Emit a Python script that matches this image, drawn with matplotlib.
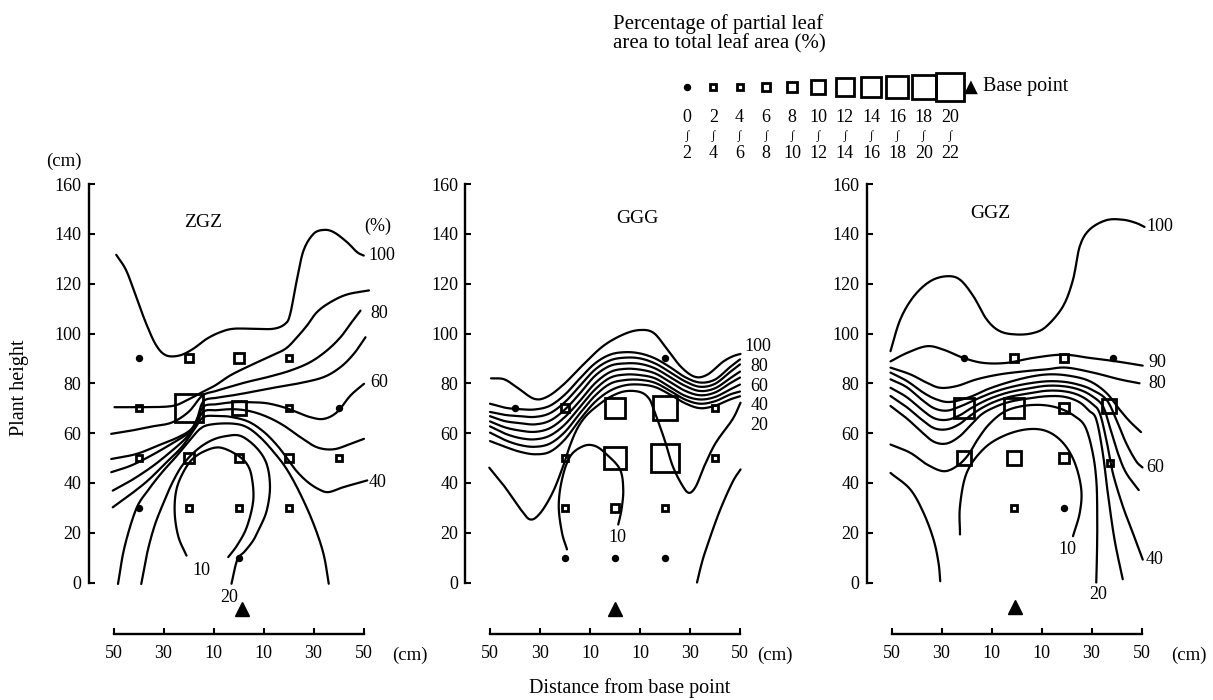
import numpy as np
import matplotlib
matplotlib.use("Agg")
import matplotlib.pyplot as plt
from matplotlib.transforms import blended_transform_factory

plt.rcParams['font.family'] = ['Liberation Serif', 'DejaVu Serif', 'DejaVu Sans']

# ------------------------------------------------------------------ data
CLASS_LOW = [0, 2, 4, 6, 8, 10, 12, 14, 16, 18, 20]
CLASS_HIGH = [2, 4, 6, 8, 10, 12, 14, 16, 18, 20, 22]

X_TICKS = [-50, -30, -10, 10, 30, 50]
X_TICK_LABELS = ['50', '30', '10', '10', '30', '50']
Y_TICKS = [0, 20, 40, 60, 80, 100, 120, 140, 160]

PANEL_TITLES = ['ZGZ', 'GGG', 'GGZ']
BASE_X = [1.5, 0.0, -0.5]
BASE_Y = [-10.5, -10.5, -10.0]

# ---- ZGZ sample points (x, y, leaf-area class)
ZGZ_PT_X = [-40, -20, 0, 20, -40, -20, 0, 20, 40, -40, -20, 0, 20, 40, -40, -20, 0, 20, 0]
ZGZ_PT_Y = [90, 90, 90, 90, 70, 70, 70, 70, 70, 50, 50, 50, 50, 50, 30, 30, 30, 30, 10]
ZGZ_PT_CLASS = [0, 6, 8, 2, 2, 20, 10, 4, 0, 4, 8, 6, 6, 4, 0, 2, 2, 4, 0]

ZGZ_100 = [(-48.9, 131.6), (-44.9, 125.3), (-40.9, 114.6), (-36.9, 103.9), (-32.9, 95.2), (-28.9, 91.2),
           (-23.5, 91.2), (-18.2, 93.8), (-12.8, 97.8), (-7.4, 100.5), (-2.1, 101.9), (5.9, 101.9),
           (14.0, 101.9), (18.7, 103.9), (20.7, 107.9), (23.3, 121.3), (26.0, 133.3), (30.0, 140.0),
           (34.1, 141.6), (38.1, 140.7), (43.4, 136.7), (47.4, 132.7), (50.1, 131.3)]
ZGZ_90 = [(-49.6, 70.4), (-39.5, 70.4), (-27, 70.8), (-21, 73), (-15, 76.2), (-9.4, 79.1), (-3.4, 83.1),
          (3.3, 86.5), (11.3, 90.2), (18.7, 93.8), (23.4, 98.5), (27.4, 103.2), (31.4, 108.6),
          (36.8, 112.6), (43.5, 115.7), (52.2, 117.3)]
ZGZ_80 = [(-50.9, 59.7), (-42.9, 61.0), (-34.9, 62.6), (-26.8, 64.2), (-20, 68.5), (-14.5, 75.0),
          (-9.4, 76.8), (-3.4, 78.6), (3.3, 80.5), (11.3, 82.4), (20.7, 85.1), (28.7, 88.5),
          (35.4, 93.2), (40.8, 98.5), (44.8, 103.9), (48.8, 109.2)]
ZGZ_70 = [(-50.9, 49.6), (-40.9, 51.6), (-32.2, 55.0), (-24.2, 58.3), (-19, 61.5), (-16.5, 66),
          (-14, 72.8), (-8.7, 74.2), (-2.1, 75.2), (4.6, 76.4), (14.0, 78.2), (24.7, 80.1),
          (34.1, 82.5), (40.8, 86.5), (46.1, 91.8), (50.8, 98.5)]
ZGZ_60 = [(-50.9, 44.3), (-42.9, 47.0), (-34.9, 51.0), (-26.8, 55.7), (-20.1, 60.0), (-17, 64),
          (-14, 70.6), (-8.7, 71.6), (-2.1, 72.4), (4.6, 72.4), (11.3, 72.0), (18.0, 70.4),
          (23.4, 68.4), (28.7, 66.4), (34.1, 65.7), (39.4, 68.4), (44.8, 75.1), (50.2, 79.8)]
ZGZ_50 = [(-50.3, 36.9), (-42.9, 41.0), (-34.9, 46.3), (-28.2, 51.6), (-21.5, 57.5), (-17.5, 62.5),
          (-14, 68.6), (-8.7, 69.2), (-2.1, 69.6), (4.6, 68.8), (11.3, 66.6), (18.0, 63.1),
          (24.7, 58.4), (31.4, 54.3), (38.1, 53.5), (44.8, 55.7), (50.2, 57.7)]
ZGZ_40 = [(-50.3, 30.2), (-42.9, 35.6), (-36.2, 41.0), (-29.5, 47.6), (-22.8, 54.3), (-18, 61),
          (-14, 66.4), (-8, 66.8), (-3, 66.5), (4, 64.6), (10, 60.6), (15, 55.6), (19, 50.5),
          (23, 45), (27.5, 40.5), (32, 37.5), (36, 36.3), (42, 38.3), (51.5, 41)]
ZGZ_30 = [(-48.2, -0.6), (-45.6, 14.2), (-40.9, 29.6), (-36.2, 37.0), (-30.8, 44.0), (-25, 50.5),
          (-20, 56.5), (-15, 62.0), (-10, 63.6), (-2.1, 63.8), (3.3, 62.4), (8.6, 58.4), (14, 52.5),
          (19.3, 45.5), (24.7, 35.6), (30, 23.6), (34, 11.5), (36.1, -0.5)]
ZGZ_20 = [(-38.9, -0.6), (-36.5, 12), (-33.5, 23), (-30, 32), (-26.5, 40), (-22.5, 47), (-17, 53),
          (-11, 57), (-5, 58.8), (1, 58.8), (7.3, 54), (11.3, 47.5), (12.6, 38.3), (11.3, 28.9),
          (8.5, 22), (5.9, 16.9), (2.5, 12.5), (-0.5, 9.1), (-2.8, -0.5)]
ZGZ_10 = [(-20.8, 10.8), (-24, 18.2), (-25.5, 27.5), (-25, 36.5), (-22.5, 43.5), (-18.5, 49.5),
          (-13, 53), (-7.4, 54.2), (-1, 51.5), (3.3, 47.7), (5.3, 42.3), (5.9, 32.9), (3.3, 22.2),
          (-0.5, 15), (-4.1, 10.2)]

ZGZ_LABELS = ['100', '80', '60', '40', '10', '20', '(%)']
ZGZ_LABEL_X = [52.0, 52.8, 52.8, 52.1, -14.8, -3.8, 55.7]
ZGZ_LABEL_Y = [131.5, 108.0, 80.5, 40.3, 4.8, -5.9, 143.0]

# ---- GGG
GGG_PT_X = [20, -40, -20, 0, 20, 40, -20, 0, 20, 40, -20, 0, 20, -20, 0, 20]
GGG_PT_Y = [90, 70, 70, 70, 70, 70, 50, 50, 50, 50, 30, 30, 30, 10, 10, 10]
GGG_PT_CLASS = [0, 0, 6, 14, 18, 4, 2, 16, 20, 2, 4, 6, 4, 0, 0, 0]

GGG_100 = [(-49.6, 82.0), (-44.3, 81.6), (-39.0, 78.2), (-32.4, 73.8), (-27.1, 74.6), (-20.5, 79.6),
           (-12.6, 87.6), (-4.7, 95.0), (3.3, 99.6), (9.9, 101.4), (15.5, 100.2), (21, 93.5),
           (26.5, 86.5), (32, 82.6), (37, 83.5), (43, 88.5), (47, 90.8), (50.2, 91.8)]
GGG_BUNDLE_X = [-50, -44, -38, -32, -26, -20, -14, -8, -2, 4, 10, 16, 22, 28, 34, 40, 46, 50]
GGG_90_Y = [71.8, 70.2, 69.6, 69.5, 71.0, 75.5, 82.0, 88.0, 91.5, 92.5, 92.0, 90.0, 86.5, 82.5, 80.3, 81.5, 86.5, 89.6]
GGG_80_Y = [68.5, 67.3, 66.8, 66.5, 68.0, 72.5, 79.0, 85.5, 89.2, 90.3, 90.0, 88.0, 84.5, 80.8, 78.6, 79.8, 84.5, 87.6]
GGG_70_Y = [66.8, 64.8, 64.0, 63.5, 65.0, 69.5, 76.0, 83.0, 87.0, 88.0, 87.8, 86.0, 82.5, 79.0, 76.9, 78.0, 82.0, 84.7]
GGG_60_Y = [64.7, 62.3, 61.0, 60.5, 62.0, 66.5, 73.0, 80.0, 84.5, 85.8, 85.5, 84.0, 80.5, 77.0, 75.2, 76.3, 80.0, 82.3]
GGG_50_Y = [62.7, 59.8, 58.0, 57.5, 59.0, 63.5, 70.5, 77.5, 82.2, 83.5, 83.3, 82.0, 78.5, 75.0, 73.5, 74.5, 77.5, 79.5]
GGG_40_Y = [60.2, 57.2, 55.2, 54.5, 55.8, 60.5, 68.0, 75.0, 79.8, 81.3, 81.4, 80.2, 77.0, 73.5, 71.8, 72.8, 75.5, 76.7]
GGG_30_Y = [56.8, 54.5, 52.5, 51.5, 52.5, 57.5, 65.5, 72.5, 77.0, 79.2, 79.5, 78.5, 75.5, 72.0, 70.0, 71.0, 73.5, 74.8]
GGG_20 = [(-50.3, 46.1), (-44.3, 38.7), (-37.7, 29.3), (-33.8, 25.3), (-29.8, 28.0), (-25, 36.0),
          (-21, 46), (-18, 55), (-15, 62), (-11.5, 67), (-7, 71), (-2, 74.5), (4, 76.8), (10, 76.5),
          (13.5, 74.0), (15.5, 69.5), (19.8, 57.4), (23.1, 46.7), (27.1, 38.7), (29.7, 36.0),
          (32.4, 38.7), (35.7, 46.7), (40.3, 56.1), (47.0, 65.5), (50.2, 72.2)]
GGG_10 = [(-19.2, 13.3), (-21.2, 20.0), (-22.5, 30.7), (-21.2, 41.4), (-17.9, 50.7), (-12.6, 54.8),
          (-7.9, 54.8), (-3.3, 51.4), (2.0, 45.4), (3.3, 37.4), (2.6, 29.3), (1.3, 23.3)]
GGG_BR = [(32.8, 0.0), (34.5, 7.0), (36.4, 13.3), (41.6, 28.0), (46.9, 40.1), (50.2, 45.4)]

GGG_LABELS = ['100', '80', '60', '40', '20', '10']
GGG_LABEL_X = [51.6, 54.2, 54.2, 54.2, 54.2, 0.9]
GGG_LABEL_Y = [94.8, 86.7, 78.7, 70.9, 62.9, 17.9]

# ---- GGZ
GGZ_PT_X = [-21, -1, 19, 38.5, -21, -1, 19, 37, -21, -1, 19, 37.5, -1, 19]
GGZ_PT_Y = [90, 90, 90, 90, 70, 70, 70, 71, 50, 50, 50, 48, 30, 30]
GGZ_PT_CLASS = [0, 6, 6, 0, 14, 14, 8, 10, 10, 10, 8, 2, 2, 0]

GGZ_100 = [(-50.4, 92.9), (-46.5, 105.6), (-41.1, 114.9), (-34.5, 121.0), (-27.9, 123.0), (-22.6, 121.6),
           (-17.2, 114.9), (-11.9, 105.6), (-6.6, 100.9), (0.0, 99.6), (6.7, 100.2), (12.0, 102.9),
           (18.6, 110.9), (22.6, 121.6), (25.3, 135.0), (29.2, 141.7), (35.9, 145.5), (42.5, 145.7),
           (47.8, 144.4), (51.2, 142.8)]
GGZ_90 = [(-50.4, 88.8), (-43.8, 92.2), (-35.8, 94.9), (-29.2, 93.5), (-21.2, 90.2), (-13.3, 88.2),
          (-4.0, 88.2), (6.7, 90.2), (18.6, 91.5), (29.2, 90.2), (39.9, 88.8), (50.5, 87.1)]
GGZ_80 = [(-50.4, 86.3), (-42.5, 83.6), (-35.8, 80.2), (-30.5, 78.2), (-23.9, 78.9), (-15.9, 81.6),
          (-6.6, 83.6), (4.0, 84.9), (12.0, 85.6), (19.9, 86.3), (30.6, 84.3), (41.2, 81.6), (49.2, 80.0)]
GGZ_70 = [(-50.4, 84.3), (-43.8, 80.9), (-37.2, 76.2), (-31.9, 73.5), (-26.5, 72.5), (-18.6, 74.5),
          (-11.9, 77.5), (-4, 80.2), (5.3, 82.6), (13.3, 83.6), (21.3, 83.0), (29.2, 80.9), (35.9, 76.2),
          (41.2, 69.5), (45.2, 64.8), (49.8, 60.4)]
GGZ_60 = [(-50.4, 81.6), (-44, 78.5), (-38, 73.5), (-33, 70), (-28, 69), (-23, 70.5), (-18.5, 72.5),
          (-14, 74.5), (-9, 76.5), (-3, 78.3), (4, 79.8), (12, 80.8), (19, 80.6), (25, 79.4), (30, 77.5),
          (35.9, 73.5), (39.9, 65.5), (43.8, 56.1), (47.8, 48.8), (50.4, 46.2)]
GGZ_50 = [(-50.4, 78.2), (-44, 74.5), (-38, 69.5), (-33, 66), (-28, 65.3), (-23, 67), (-18.5, 69.8),
          (-14, 72.3), (-9, 74.5), (-3, 76.4), (4, 77.8), (12, 79.0), (19, 78.8), (25, 77.5), (30, 75),
          (34.5, 70.9), (37.2, 62.8), (40.5, 52.1), (43.8, 44.1), (48.9, 37.1)]
GGZ_40 = [(-50.4, 74.9), (-44, 70.5), (-38, 65.5), (-33, 62), (-28, 61.5), (-23, 63.5), (-18.5, 67),
          (-14, 70), (-9, 72.5), (-3, 74.5), (4, 75.8), (12, 77.0), (19, 76.8), (25, 75.2), (30, 72),
          (33.2, 68.2), (35.9, 57.5), (38.5, 44.1), (42.5, 30.7), (46.5, 20.0), (50.5, 9.2)]
GGZ_30 = [(-50.4, 70.9), (-44, 66), (-38, 60.5), (-33, 56.5), (-28, 55.8), (-23, 58.5), (-18.5, 63),
          (-14, 67.5), (-9, 70.3), (-3, 72.5), (4, 73.8), (12, 74.8), (19, 74.6), (25, 72.5), (29, 69),
          (31.9, 65.5), (34.5, 52.1), (36.5, 36.1), (39.2, 17.3), (42.5, 1.3)]
GGZ_20 = [(-50.4, 55.4), (-42.5, 52.1), (-35.8, 47.4), (-29.2, 44.7), (-23.9, 46.7), (-19.5, 51),
          (-15.5, 57.5), (-11, 63.5), (-5, 68.5), (2, 70.8), (10, 71.3), (17, 70), (23, 67), (27.5, 62.5),
          (30.5, 52), (32, 40), (32.3, 25), (32.2, 12), (31.9, 0)]
GGZ_10 = [(-22.6, 19.3), (-22.6, 30.7), (-19.9, 44.1), (-13.3, 53.5), (-5.3, 58.8), (4.0, 61.5),
          (12.0, 60.8), (18.6, 56.1), (23.3, 48.1), (25.9, 37.4), (25.3, 28.0), (22.6, 18.6)]
GGZ_BL = [(-50.4, 44.0), (-42.5, 37.4), (-37.2, 28.0), (-33.2, 17.3), (-31.2, 7.9), (-30.5, 0.5)]

GGZ_LABELS = ['100', '90', '80', '60', '40', '20', '10']
GGZ_LABEL_X = [51.8, 52.9, 52.9, 51.8, 51.8, 32.6, 20.2]
GGZ_LABEL_Y = [142.8, 88.2, 80.1, 46.1, 9.2, -4.8, 13.3]

# ------------------------------------------------------------------ style
W, H = 1213, 700
SIZE_PX = {0: 6.0, 2: 8.0, 4: 9.5, 6: 11.5, 8: 13.5, 10: 17.5, 12: 21, 14: 23, 16: 25, 18: 27.5, 20: 31}
MARK_LW = 2.0
LINE_LW = 1.6
FS = 13
WORD_FS = 14.5
PANEL_LEFT_PX = [88.5, 465.0, 866.5]


def smooth(pts, n=10):
    p = np.asarray(pts, float)
    if len(p) < 3:
        return p
    ext = np.vstack([2 * p[0] - p[1], p, 2 * p[-1] - p[-2]])
    out = []
    t = np.linspace(0, 1, n, endpoint=False)[:, None]
    for i in range(1, len(ext) - 2):
        p0, p1, p2, p3 = ext[i - 1], ext[i], ext[i + 1], ext[i + 2]
        seg = 0.5 * ((2 * p1) + (-p0 + p2) * t + (2 * p0 - 5 * p1 + 4 * p2 - p3) * t ** 2
                     + (-p0 + 3 * p1 - 3 * p2 + p3) * t ** 3)
        out.append(seg)
    out.append(p[-1][None, :])
    return np.vstack(out)


def draw_curve(ax, pts):
    s = smooth(pts)
    ax.plot(s[:, 0], s[:, 1], color='black', lw=LINE_LW, solid_capstyle='round', clip_on=False)


def draw_marker(ax, x, y, c):
    if c == 0:
        ax.plot(x, y, 'o', ms=SIZE_PX[0] * 0.72, color='black', clip_on=False, zorder=5)
    else:
        side = SIZE_PX[c] * 0.72 - MARK_LW
        ax.plot(x, y, 's', ms=side, mfc='none', mec='black', mew=MARK_LW, clip_on=False, zorder=5)


fig = plt.figure(figsize=(W / 100, H / 100), dpi=100)

axes = []
for k, lpx in enumerate(PANEL_LEFT_PX):
    ax = fig.add_axes([lpx / W, 1 - 644.75 / H, 290 / W, 473.1 / H])
    ax.set_xlim(-60, 56)
    ax.set_ylim(-25, 165)
    ax.patch.set_visible(False)
    for s in ['top', 'right']:
        ax.spines[s].set_visible(False)
    ax.spines['left'].set_bounds(0, 160)
    ax.spines['bottom'].set_position(('data', -20.5))
    ax.spines['bottom'].set_bounds(-50, 50)
    for s in ['left', 'bottom']:
        ax.spines[s].set_linewidth(1.7)
    ax.set_xticks(X_TICKS)
    ax.set_xticklabels(X_TICK_LABELS)
    ax.set_yticks(Y_TICKS)
    ax.set_yticklabels([str(v) for v in Y_TICKS])
    ax.tick_params(direction='in', length=4.5, width=1.5, labelsize=FS)
    ax.tick_params(axis='x', pad=8)
    ax.tick_params(axis='y', pad=5)
    axes.append(ax)

panel_data = [
    (ZGZ_PT_X, ZGZ_PT_Y, ZGZ_PT_CLASS,
     [ZGZ_100, ZGZ_90, ZGZ_80, ZGZ_70, ZGZ_60, ZGZ_50, ZGZ_40, ZGZ_30, ZGZ_20, ZGZ_10],
     ZGZ_LABELS, ZGZ_LABEL_X, ZGZ_LABEL_Y),
    (GGG_PT_X, GGG_PT_Y, GGG_PT_CLASS,
     [GGG_100] + [list(zip(GGG_BUNDLE_X, yy)) for yy in
                  [GGG_90_Y, GGG_80_Y, GGG_70_Y, GGG_60_Y, GGG_50_Y, GGG_40_Y, GGG_30_Y]]
     + [GGG_20, GGG_10, GGG_BR],
     GGG_LABELS, GGG_LABEL_X, GGG_LABEL_Y),
    (GGZ_PT_X, GGZ_PT_Y, GGZ_PT_CLASS,
     [GGZ_100, GGZ_90, GGZ_80, GGZ_70, GGZ_60, GGZ_50, GGZ_40, GGZ_30, GGZ_20, GGZ_10, GGZ_BL],
     GGZ_LABELS, GGZ_LABEL_X, GGZ_LABEL_Y),
]

TITLE_XY = [(-14.3, 144.6), (9.1, 146.2), (-10.6, 148.2)]
XCM_X = [61.6, 56.8, 62.0]

for k, ax in enumerate(axes):
    px, py, pc, curves, labs, lx, ly = panel_data[k]
    for cv in curves:
        draw_curve(ax, cv)
    for x, y, c in zip(px, py, pc):
        draw_marker(ax, x, y, c)
    for t, x, y in zip(labs, lx, ly):
        ha = 'center' if (t in ('10', '20') and x < 45) or t == '(%)' else 'left'
        ax.text(x, y, t, ha=ha, va='center', fontsize=FS, clip_on=False)
    ax.plot(BASE_X[k], BASE_Y[k], '^', ms=10.5, color='black', clip_on=False)
    ax.text(TITLE_XY[k][0], TITLE_XY[k][1], PANEL_TITLES[k], ha='center', va='center', fontsize=14)
    ax.text(XCM_X[k], -29.3, '(cm)', ha='left', va='center', fontsize=FS + 0.5, clip_on=False)

axes[0].text(-69.7, 169.0, '(cm)', ha='center', va='center', fontsize=FS + 0.5, clip_on=False)

fig.text(20 / W, 1 - 388 / H, 'Plant height', rotation=90, ha='center', va='center', fontsize=WORD_FS)
fig.text(630 / W, 1 - 688 / H, 'Distance from base point', ha='center', va='center', fontsize=WORD_FS)

# ------------------------------------------------------------------ legend
fig.text(613 / W, 1 - 24 / H, 'Percentage of partial leaf', ha='left', va='center', fontsize=WORD_FS + 0.5)
fig.text(613 / W, 1 - 44 / H, 'area to total leaf area (%)', ha='left', va='center', fontsize=WORD_FS + 0.5)

leg = fig.add_axes([(687 - 13.15) / W, 1 - 99 / H, (263 + 26.3) / W, 24 / H])
leg.set_xlim(-1, 21)
leg.set_ylim(-1, 1)
leg.axis('off')
for c in CLASS_LOW:
    draw_marker(leg, c, 0, c)
tr = blended_transform_factory(leg.transData, fig.transFigure)
for lo, hi in zip(CLASS_LOW, CLASS_HIGH):
    leg.text(lo, 1 - 117 / H, str(lo), transform=tr, ha='center', va='center', fontsize=FS)
    leg.text(lo, 1 - 135.5 / H, '\u222b', transform=tr, ha='center', va='center', fontsize=8.5)
    leg.text(lo, 1 - 154 / H, str(hi), transform=tr, ha='center', va='center', fontsize=FS)

fig.text(971 / W, 1 - 87 / H, '\u25b2', ha='center', va='center', fontsize=13,
         family=['DejaVu Sans'])
fig.text(983 / W, 1 - 87 / H, 'Base point', ha='left', va='center', fontsize=WORD_FS)

fig.savefig('out.png', dpi=100)
